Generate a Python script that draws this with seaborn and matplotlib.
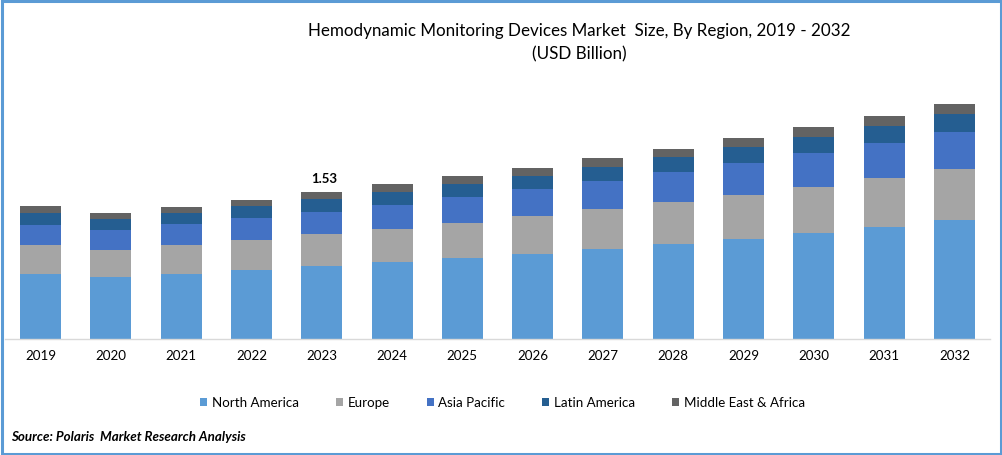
import numpy as np
import matplotlib
matplotlib.use("Agg")
import matplotlib.pyplot as plt
import seaborn as sns
from matplotlib.patches import Rectangle

years = [2019, 2020, 2021, 2022, 2023, 2024, 2025, 2026, 2027, 2028, 2029, 2030, 2031, 2032]

# values, USD billion
north_america = [0.677, 0.645, 0.677, 0.718, 0.760, 0.801, 0.843, 0.885, 0.937, 0.989, 1.041, 1.103, 1.166, 1.239]
europe = [0.302, 0.281, 0.302, 0.312, 0.333, 0.343, 0.364, 0.396, 0.416, 0.437, 0.458, 0.479, 0.510, 0.531]
asia_pacific = [0.208, 0.208, 0.219, 0.229, 0.229, 0.250, 0.271, 0.281, 0.291, 0.312, 0.333, 0.354, 0.364, 0.385]
latin_america = [0.125, 0.114, 0.114, 0.125, 0.135, 0.135, 0.135, 0.135, 0.146, 0.156, 0.167, 0.167, 0.177, 0.187]
middle_east = [0.073, 0.062, 0.062, 0.062, 0.073, 0.083, 0.083, 0.083, 0.094, 0.083, 0.094, 0.104, 0.104, 0.104]

series = [
    ("North America", north_america, "#5B9BD5"),
    ("Europe", europe, "#A5A5A5"),
    ("Asia Pacific", asia_pacific, "#4472C4"),
    ("Latin America", latin_america, "#255E91"),
    ("Middle East & Africa", middle_east, "#636363"),
]

sns.set_theme(style="white")
plt.rcParams["font.family"] = ["Lato", "DejaVu Sans"]

W, H = 1002, 456
fig = plt.figure(figsize=(W / 100, H / 100), dpi=100)
# axes box in pixels: x 5.35-989.65, baseline just under y=340
ax = fig.add_axes([5.35 / W, 1 - 340 / H, 984.3 / W, 249 / H])

bottom = np.zeros(len(years))
for name, vals, col in series:
    sns.barplot(x=years, y=vals, bottom=bottom, color=col, saturation=1, width=0.583,
                label=name, legend=False, errorbar=None, linewidth=0, ax=ax)
    bottom = bottom + np.array(vals)

ax.set_xlim(-0.5, 13.5)
ax.set_ylim(0, 249 / 96.08)
ax.set_yticks([])
for s in ["top", "left", "right"]:
    ax.spines[s].set_visible(False)
ax.spines["bottom"].set_color("#D9D9D9")
ax.spines["bottom"].set_linewidth(1)
ax.tick_params(axis="x", length=0, pad=7.5, labelsize=9.6, labelcolor="black")

ax.text(4.04, bottom[4] + 0.085, "1.53", ha="center", va="bottom", fontsize=9.5, fontweight="bold", color="black")

fig.text(579 / W, 1 - 31 / H, "Hemodynamic Monitoring Devices Market  Size, By Region, 2019 - 2032",
         ha="center", va="center", fontsize=12.25, color="black")
fig.text(579 / W, 1 - 54 / H, "(USD Billion)", ha="center", va="center", fontsize=12.25, color="black")

handles, labels = ax.get_legend_handles_labels()
fig.legend(handles, labels, ncol=5, loc="center", bbox_to_anchor=(502.5 / W, 1 - 403.5 / H), frameon=False,
           fontsize=9.6, handlelength=0.55, handleheight=0.55, handletextpad=0.35, columnspacing=2.75,
           labelcolor="black")

fig.text(11 / W, 1 - 437 / H, "Source: Polaris  Market Research Analysis", ha="left", va="center",
         fontsize=9.6, fontweight="bold", fontstyle="italic", color="black")

# blue frame round the picture
fig.add_artist(Rectangle((1.5 / W, 1.5 / H), (W - 3) / W, (H - 3) / H, transform=fig.transFigure,
                         fill=False, edgecolor="#5B9BD5", linewidth=2.2))

fig.savefig("out.png", dpi=100)
